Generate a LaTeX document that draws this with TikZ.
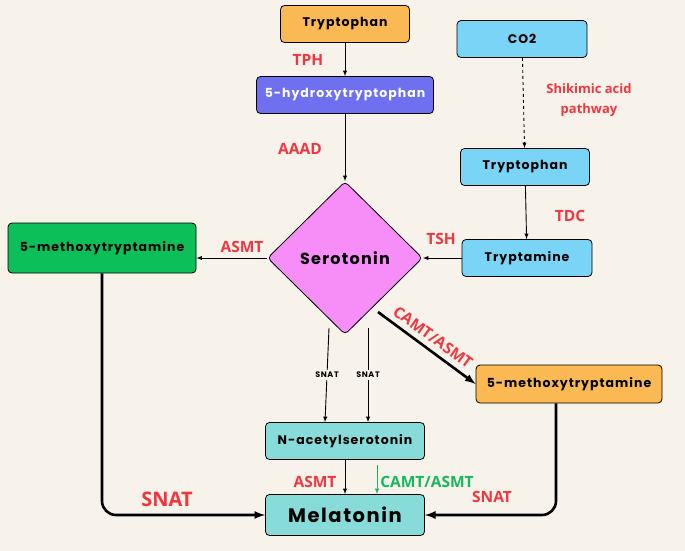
\documentclass[tikz,border=0pt]{standalone}
\usepackage{fontspec}
\setmainfont{Open Sans}
\newfontfamily\boxfont[LetterSpace=8]{Poppins}
\usetikzlibrary{calc,positioning,shapes.geometric,arrows}
\definecolor{bgcream}{HTML}{F7F3EB}
\definecolor{trporange}{HTML}{FBB954}
\definecolor{htpblue}{HTML}{6F70F0}
\definecolor{skyblue}{HTML}{7AD4F6}
\definecolor{serpink}{HTML}{F78EF7}
\definecolor{mtgreen}{HTML}{0DBF58}
\definecolor{melteal}{HTML}{87DBD8}
\definecolor{enzred}{HTML}{F2363F}
\definecolor{enzgreen}{HTML}{16B85C}
\tikzset{
   compound/.style={ rectangle, draw=black, thick, rounded corners=4pt, minimum height=37pt, inner sep=2pt, text centered, font=\boxfont\bfseries\fontsize{12.5}{14}\selectfont},
   hub/.style={ diamond, draw=black, thick, rounded corners=4pt, fill=serpink, minimum width=155pt, minimum height=153pt, inner sep=0pt, font=\boxfont\bfseries\fontsize{16}{18}\selectfont},
   enzyme/.style={ text=enzred, font=\bfseries\fontsize{15.5}{18}\selectfont, inner sep=1pt},
   tiny enzyme/.style={ fill=bgcream, font=\boxfont\bfseries\fontsize{8}{9}\selectfont, inner sep=2pt},
   step line/.style={ ->, line width=0.9pt},
   heavy line/.style={ ->, line width=2.6pt, rounded corners=14pt},
   >=latex
}

\begin{document}
\begin{tikzpicture}[x=1pt,y=-1pt]

  \fill[bgcream] (0,0) rectangle (685,551);
  \useasboundingbox (0,0) rectangle (685,551);

  %% Tryptophan route
  \node[compound, fill=trporange, minimum width=129pt] at (345,24)  (trp)  {Tryptophan};
  \node[compound, fill=htpblue, text=white, minimum width=177pt] at (345,95) (htp) {5-hydroxytryptophan};
  \node[hub] at (345,258) (ser) {Serotonin};

  %% Shikimic route
  \node[compound, fill=skyblue, minimum width=130pt] at (522,39)  (co2)     {CO2};
  \node[compound, fill=skyblue, minimum width=129pt] at (525,167) (trp two) {Tryptophan};
  \node[compound, fill=skyblue, minimum width=130pt] at (527,258) (tra)     {Tryptamine};

  %% Methoxytryptamines
  \node[compound, fill=mtgreen, minimum width=188pt, minimum height=50pt] at (102,248) (mt left)  {5-methoxytryptamine};
  \node[compound, fill=trporange, minimum width=186pt, minimum height=38pt] at (569,384) (mt right) {5-methoxytryptamine};

  %% Melatonin
  \node[compound, fill=melteal, minimum width=159pt] at (345,441) (nac) {N-acetylserotonin};
  \node[compound, fill=melteal, minimum width=159pt, minimum height=41pt, font=\boxfont\bfseries\fontsize{19.5}{21}\selectfont] at (345,515) (mel) {Melatonin};

  \coordinate (snat a) at (329,328);
  \coordinate (snat b) at (368,328);
  \coordinate (camt)   at (378,312);

  \draw[step line] (trp) -- (htp);
  \draw[step line] (htp) -- (ser);
  \draw[step line, dashed] (co2) -- (trp two);
  \draw[step line] (trp two) -- (tra);
  \draw[step line] (tra) -- (ser);
  \draw[step line] (ser.west) -- (ser.west -| mt left.east);

  \draw[step line] (snat a) -- node[tiny enzyme] {SNAT} (nac.north -| 325,0);
  \draw[step line] (snat b) -- node[tiny enzyme] {SNAT} (nac.north -| snat b);

  \draw[->, line width=2.6pt] (camt) -- (mt right.west);

  \draw[step line] (nac) -- (mel);
  \draw[step line, enzgreen] ($(nac.south)+(32,5)$) -- ($(mel.north)+(32,0)$);

  \draw[heavy line] (mt left.south) |- (mel.west);
  \draw[heavy line] ($(mt right.south)+(-13,0)$) |- (mel.east);

  %% Enzymes
  \node[enzyme] at (308,60)  (tph)  {TPH};
  \node[enzyme] at (300,149) (aaad) {AAAD};
  \node[enzyme, align=center, font=\bfseries\fontsize{13}{20}\selectfont] at (589,100) (shik) {Shikimic acid\\pathway};
  \node[enzyme] at (570,216) (tdc)  {TDC};
  \node[enzyme] at (441,239) (tsh)  {TSH};
  \node[enzyme] at (242,247) (asmt left) {ASMT};
  \node[enzyme, rotate=-35.8] at (433,337) (camt asmt) {CAMT/ASMT};
  \node[enzyme, font=\bfseries\fontsize{20}{22}\selectfont] at (167,499) (snat left)  {SNAT};
  \node[enzyme] at (492,497) (snat right) {SNAT};
  \node[enzyme] at (315,482) (asmt low) {ASMT};
  \node[enzyme, text=enzgreen] at (427,482) (camt low) {CAMT/ASMT};

\end{tikzpicture}
\end{document}
